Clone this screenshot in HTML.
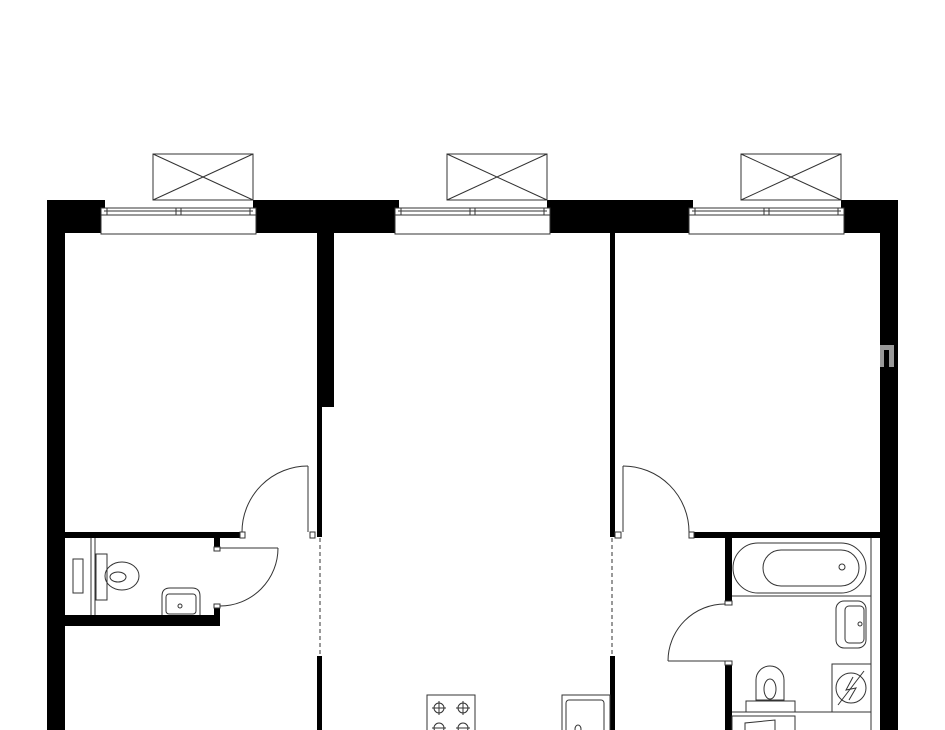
<!DOCTYPE html>
<html><head><meta charset="utf-8"><style>html,body{margin:0;padding:0;background:#fff}svg{display:block}</style></head>
<body>
<svg width="945" height="730" viewBox="0 0 945 730" xmlns="http://www.w3.org/2000/svg">
<rect width="945" height="730" fill="#fff"/>
<!-- outer walls -->
<g fill="#000">
<rect x="47" y="200" width="851" height="33"/>
<rect x="47" y="200" width="18" height="530"/>
<rect x="880" y="200" width="18" height="530"/>
<!-- interior walls -->
<rect x="317" y="233" width="17" height="174"/>
<rect x="317" y="233" width="5" height="304"/>
<rect x="317" y="656" width="5" height="74"/>
<rect x="610" y="233" width="5" height="304"/>
<rect x="610" y="656" width="5" height="74"/>
<!-- room1 bottom / WC -->
<rect x="65" y="532" width="175" height="6"/>
<rect x="65" y="615" width="155" height="11"/>
<rect x="214" y="538" width="6" height="9"/>
<rect x="214" y="607" width="6" height="19"/>
<!-- room3 bottom / bath -->
<rect x="690" y="532" width="190" height="6"/>
<rect x="725" y="538" width="7" height="64"/>
<rect x="725" y="664" width="7" height="66"/>
</g>
<rect x="880" y="345" width="14" height="22" fill="#999"/>
<rect x="884" y="350" width="5" height="17" fill="#000"/>
<!-- windows -->
<g fill="#fff" stroke="#333" stroke-width="1">
<g id="w">
<rect x="105" y="200" width="148" height="9" stroke="none"/>
<rect x="101" y="208" width="155" height="26"/>
<rect x="101" y="208" width="155" height="7"/>
<line x1="104" y1="211" x2="253" y2="211"/>
<line x1="107" y1="208" x2="107" y2="215"/>
<line x1="176" y1="208" x2="176" y2="215"/><line x1="181" y1="208" x2="181" y2="215"/>
<line x1="250" y1="208" x2="250" y2="215"/>
<rect x="153" y="154" width="100" height="46"/>
<line x1="153" y1="154" x2="253" y2="200"/><line x1="253" y1="154" x2="153" y2="200"/>
</g>
<use href="#w" x="294"/>
<use href="#w" x="588"/>
</g>
<!-- door jambs -->
<g fill="#fff" stroke="#333" stroke-width="1">
<rect x="240" y="532" width="5" height="6"/>
<rect x="310" y="532" width="5" height="6"/>
<rect x="214" y="547" width="6" height="4"/>
<rect x="214" y="604" width="6" height="4"/>
<rect x="615" y="532" width="6" height="6"/>
<rect x="689" y="532" width="5" height="6"/>
<rect x="725" y="601" width="7" height="4"/>
<rect x="725" y="661" width="7" height="4"/>
</g>
<!-- doors -->
<g fill="none" stroke="#333" stroke-width="1">
<line x1="308" y1="466" x2="308" y2="532"/><path d="M308 466 A66 66 0 0 0 242 532"/>
<line x1="220" y1="548" x2="278" y2="548"/><path d="M278 548 A58 58 0 0 1 220 606"/>
<line x1="623" y1="466" x2="623" y2="532"/><path d="M623 466 A66 66 0 0 1 689 532"/>
<line x1="668" y1="661" x2="725" y2="661"/><path d="M668 661 A57 57 0 0 1 725 604"/>
<line x1="320" y1="538" x2="320" y2="656" stroke-dasharray="4 3"/>
<line x1="612" y1="538" x2="612" y2="656" stroke-dasharray="4 3"/>
<!-- WC fixtures -->
<line x1="91" y1="538" x2="91" y2="615"/><line x1="95" y1="538" x2="95" y2="615"/>
<rect x="96" y="554" width="11" height="46"/>
<rect x="73" y="559" width="10" height="34"/>
<ellipse cx="122" cy="576" rx="17" ry="14"/><ellipse cx="118" cy="577" rx="8" ry="5"/>
<path d="M162 615 V596 Q162 588 170 588 H192 Q200 588 200 596 V615"/>
<rect x="166" y="594" width="30" height="20" rx="3"/><circle cx="180" cy="606" r="2"/>
<!-- bath -->
<line x1="871" y1="538" x2="871" y2="730"/>
<rect x="733" y="543" width="133" height="50" rx="25"/>
<rect x="763" y="550" width="96" height="36" rx="18"/>
<circle cx="842" cy="567" r="3"/>
<line x1="732" y1="596" x2="871" y2="596"/>
<rect x="836" y="601" width="30" height="47" rx="8"/>
<rect x="845" y="606" width="19" height="37" rx="4"/><circle cx="860" cy="624" r="2"/>
<rect x="832" y="664" width="39" height="48"/>
<circle cx="851" cy="688" r="15"/><line x1="838" y1="705" x2="864" y2="671"/>
<path d="M853 677 L846 690 L856 688 L849 700"/>
<path d="M756 700 V680 A14 14 0 0 1 784 680 V700 Z"/>
<ellipse cx="770" cy="689" rx="6" ry="10"/>
<rect x="746" y="701" width="49" height="11"/>
<line x1="732" y1="712" x2="871" y2="712"/>
<rect x="732" y="716" width="63" height="16"/>
<path d="M745 730 V723 L775 720 V730"/>
<!-- kitchen -->
<rect x="427" y="695" width="48" height="40"/>
<g><circle cx="439" cy="708" r="5"/><line x1="432" y1="708" x2="446" y2="708"/><line x1="439" y1="701" x2="439" y2="715"/></g>
<g><circle cx="463" cy="708" r="5"/><line x1="456" y1="708" x2="470" y2="708"/><line x1="463" y1="701" x2="463" y2="715"/></g>
<g><circle cx="439" cy="728" r="5"/><line x1="432" y1="728" x2="446" y2="728"/></g>
<g><circle cx="463" cy="728" r="5"/><line x1="456" y1="728" x2="470" y2="728"/></g>
<rect x="562" y="695" width="48" height="40"/>
<rect x="566" y="700" width="38" height="35" rx="3"/>
<ellipse cx="578" cy="729" rx="3" ry="4"/>
</g>
</svg>
</body></html>
